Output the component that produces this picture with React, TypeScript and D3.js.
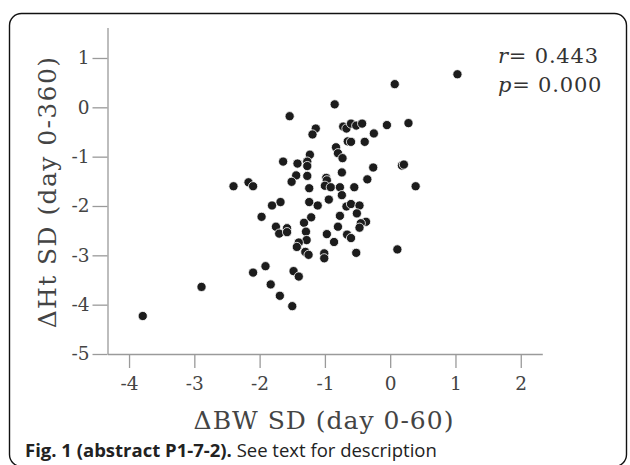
import React, { useEffect, useRef } from 'react';
import * as d3 from 'd3';

// ΔBW SD (day 0-60) vs ΔHt SD (day 0-360)
const bwSd = [
  0.07, -0.85, -1.54, -1.14, -1.19, -0.72, -0.67, -0.60, -0.52, -0.43,
  -0.05, 0.28, -0.25, -0.65, -0.60, -0.39, -0.83, -0.80, -0.73, -1.23,
  -1.64, -1.42, -1.27, -1.27, -0.26, 0.18, 0.21, -0.74, -1.44, -1.27,
  -0.98, -0.97, -0.35, -1.51, -2.40, -2.17, -2.10, -1.24, -1.00, -0.91,
  -0.77, -0.55, 0.39, -0.74, -0.94, -1.68, -1.81, -1.24, -1.11, -0.67,
  -0.60, -0.47, -0.51, -0.77, -1.97, -1.21, -1.32, -0.37, -0.45, -0.47,
  -0.80, -1.75, -1.58, -1.70, -1.58, -1.29, -0.97, -0.66, -0.60, -1.28,
  -1.40, -1.43, -0.86, -1.30, -1.25, -1.01, -1.01, -0.52, 0.11, -1.91,
  -2.10, -1.48, -1.40, -1.83, -2.89, -1.69, -1.50, -3.79, 1.03,
];
const htSd = [
  0.47, 0.06, -0.18, -0.43, -0.55, -0.39, -0.43, -0.33, -0.37, -0.33,
  -0.36, -0.32, -0.53, -0.69, -0.70, -0.70, -0.81, -0.93, -1.03, -0.96,
  -1.10, -1.14, -1.10, -1.19, -1.22, -1.18, -1.16, -1.32, -1.38, -1.39,
  -1.43, -1.48, -1.46, -1.51, -1.60, -1.52, -1.60, -1.64, -1.59, -1.62,
  -1.62, -1.62, -1.60, -1.78, -1.87, -1.92, -1.99, -1.92, -1.99, -2.01,
  -1.96, -1.99, -2.15, -2.20, -2.22, -2.23, -2.34, -2.32, -2.35, -2.44,
  -2.42, -2.42, -2.45, -2.56, -2.53, -2.52, -2.57, -2.58, -2.65, -2.69,
  -2.74, -2.83, -2.73, -2.93, -2.99, -2.96, -3.06, -2.95, -2.88, -3.22,
  -3.35, -3.32, -3.43, -3.59, -3.64, -3.82, -4.03, -4.23, 0.67,
];
const xTicks = [-4, -3, -2, -1, 0, 1, 2];
const yTicks = [1, 0, -1, -2, -3, -4, -5];
const statNames = ['r', 'p'];
const statValues = ['0.443', '0.000'];

const serif = "'DejaVu Serif', serif";

export default function App() {
  const ref = useRef<SVGSVGElement>(null);

  useEffect(() => {
    const svg = d3.select(ref.current);
    svg.selectAll('*').remove();

    // outer frame of the figure
    svg.append('rect')
      .attr('x', 9.5).attr('y', 13.5)
      .attr('width', 617).attr('height', 453)
      .attr('rx', 12)
      .attr('fill', 'none')
      .attr('stroke', '#111')
      .attr('stroke-width', 1.4);

    const x = d3.scaleLinear().domain([-4.33, 2.33]).range([107.5, 542.3]);
    const y = d3.scaleLinear().domain([-5, 1.62]).range([354, 27.4]);

    const gx = svg.append('g')
      .attr('transform', 'translate(0,354)')
      .call(d3.axisBottom(x).tickValues(xTicks).tickSize(14).tickSizeOuter(0).tickFormat(d3.format('d')));
    gx.selectAll('text').attr('y', 36).attr('dy', null);

    const gy = svg.append('g')
      .attr('transform', 'translate(107.5,0)')
      .call(d3.axisLeft(y).tickValues(yTicks).tickSize(15).tickPadding(3).tickSizeOuter(0).tickFormat(d3.format('d')));

    [gx, gy].forEach(g => {
      g.selectAll('path, line').attr('stroke', '#9a9a9a').attr('stroke-width', 1.3);
      g.selectAll('text')
        .attr('font-family', serif)
        .attr('font-size', 18.5)
        .attr('fill', '#444')
        .text((d: any) => String(d).replace('\u2212', '-'));
    });

    svg.append('g')
      .selectAll('circle')
      .data(bwSd)
      .join('circle')
      .attr('cx', d => x(d))
      .attr('cy', (d, i) => y(htSd[i]))
      .attr('r', 4.6)
      .attr('fill', '#1c1c1c')
      .attr('stroke', '#fff')
      .attr('stroke-width', 0.8);

    svg.append('text')
      .attr('x', 324).attr('y', 429)
      .attr('text-anchor', 'middle')
      .attr('font-family', serif).attr('font-size', 25).attr('letter-spacing', 1).attr('fill', '#444')
      .text('\u0394BW SD (day 0-60)');

    svg.append('text')
      .attr('transform', 'translate(56,192) rotate(-90)')
      .attr('text-anchor', 'middle')
      .attr('font-family', serif).attr('font-size', 25).attr('letter-spacing', 1.4).attr('fill', '#444')
      .text('\u0394Ht SD (day 0-360)');

    const stats = svg.append('g');
    statNames.forEach((s, i) => {
      const t = stats.append('text')
        .attr('x', 498).attr('y', 63 + i * 29)
        .attr('font-family', serif).attr('font-size', 21).attr('letter-spacing', 0.8).attr('fill', '#333');
      t.append('tspan').attr('font-style', 'italic').text(s);
      t.append('tspan').text('= ' + statValues[i]);
    });

    const cap = svg.append('text')
      .attr('x', 25).attr('y', 457)
      .attr('font-family', "'Open Sans', sans-serif").attr('font-size', 18.5).attr('fill', '#222');
    cap.append('tspan').attr('font-weight', 'bold').text('Fig. 1 (abstract P1-7-2).');
    cap.append('tspan').text(' See text for description');
  }, []);

  return (
    <svg ref={ref} width={630} height={465} style={{ position: 'absolute', left: 0, top: 0, background: '#fff' }} />
  );
}
